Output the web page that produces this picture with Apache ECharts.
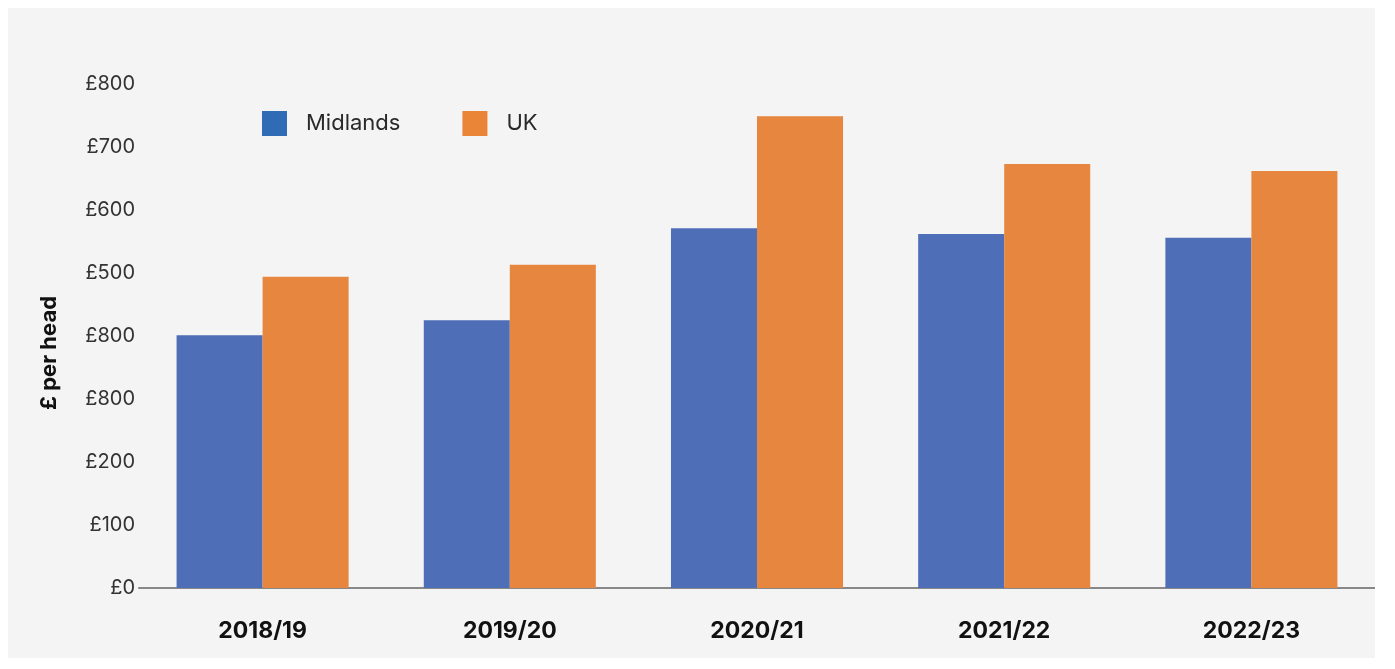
<!DOCTYPE html>
<html>
<head>
<meta charset="utf-8">
<script src="https://cdn.jsdelivr.net/npm/echarts@6/dist/echarts.min.js"></script>
<style>
  html, body { margin: 0; padding: 0; background: #ffffff; }
  #chart { position: absolute; left: 8px; top: 8px; width: 1367px; height: 650px; }
</style>
</head>
<body>
<div id="chart"></div>
<script>
  // data
  const categories = ['2018/19', '2019/20', '2020/21', '2021/22', '2022/23']
  const midlands = [401, 425, 571, 562, 556]
  const uk = [494, 513, 749, 673, 662]
  // tick labels exactly as printed (including the repeated £800)
  const yLabels = ['£0', '£100', '£200', '£800', '£800', '£500', '£600', '£700', '£800']

  const blue = '#4e6eb7'
  const orange = '#e6863f'

  const chart = echarts.init(document.getElementById('chart'))
  chart.setOption({
    backgroundColor: '#f4f4f4',
    textStyle: { fontFamily: 'Inter, "Liberation Sans", sans-serif' },
    legend: {
      left: 249,
      top: 98,
      itemWidth: 25,
      itemHeight: 25,
      itemGap: 62,
      icon: 'rect',
      textStyle: { fontSize: 22, color: '#2a2a2a', padding: [2, 0, 0, 14] },
      data: [
        { name: 'Midlands', itemStyle: { color: '#2f6cb5' } },
        { name: 'UK', itemStyle: { color: '#ea8436' } }
      ]
    },
    grid: { left: 131, right: 0, top: 76, bottom: 70 },
    xAxis: {
      type: 'category',
      data: categories,
      axisTick: { show: false },
      axisLine: { lineStyle: { color: '#888', width: 2 } },
      axisLabel: { fontSize: 23, fontWeight: 'bold', color: '#111', margin: 32 }
    },
    yAxis: {
      type: 'value',
      min: 0,
      max: 800,
      interval: 100,
      name: '£ per head',
      nameLocation: 'middle',
      nameGap: 79,
      nameTextStyle: { fontSize: 22, fontWeight: 'bold', color: '#111', padding: [0, 0, 0, -34] },
      splitLine: { show: false },
      axisLine: { show: false },
      axisTick: { show: false },
      axisLabel: {
        fontSize: 20,
        color: '#333',
        margin: 4,
        formatter: (v) => yLabels[Math.round(v / 100)]
      }
    },
    series: [
      {
        name: 'Midlands',
        type: 'bar',
        data: midlands,
        itemStyle: { color: blue },
        barGap: '0%',
        barCategoryGap: '30.4%'
      },
      {
        name: 'UK',
        type: 'bar',
        data: uk,
        itemStyle: { color: orange }
      }
    ]
  })
</script>
</body>
</html>
